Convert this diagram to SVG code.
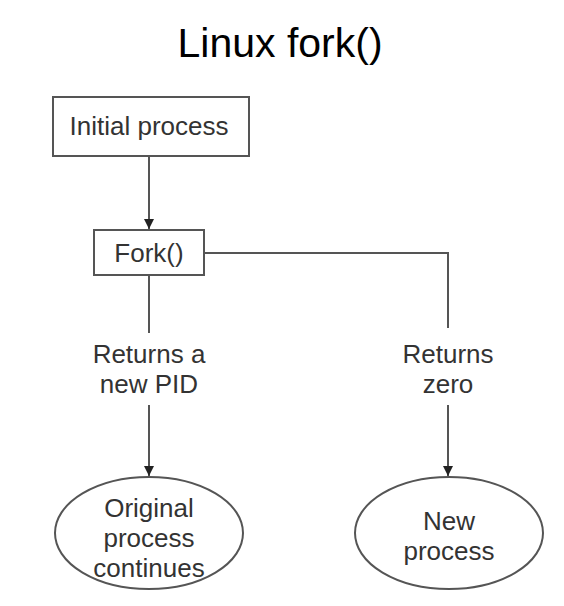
<svg xmlns="http://www.w3.org/2000/svg" width="564" height="606" viewBox="0 0 564 606">
<style>
.box{fill:#fff;stroke:#555;stroke-width:2}
.lbl{font-family:"Liberation Sans",Arial,sans-serif;font-size:26px;fill:#333;text-anchor:middle}
.title{font-family:"Liberation Sans",Arial,sans-serif;font-size:41px;fill:#000;text-anchor:middle}
.ln{fill:none;stroke:#555;stroke-width:2}
</style>
<defs>
<marker id="arr" viewBox="0 0 10 10" refX="10" refY="5" markerWidth="10" markerHeight="10" markerUnits="userSpaceOnUse" orient="auto">
<path d="M0,0 L10,5 L0,10 z" fill="#222"/>
</marker>
</defs>
<rect width="564" height="606" fill="#fff"/>
<text class="title" x="280" y="57">Linux fork()</text>
<g id="connectors">
<line class="ln" x1="149" y1="156" x2="149" y2="229" marker-end="url(#arr)"/>
<line class="ln" x1="149" y1="275" x2="149" y2="333"/>
<line class="ln" x1="149" y1="405" x2="149" y2="476" marker-end="url(#arr)"/>
<polyline class="ln" points="204,253 448,253 448,328"/>
<line class="ln" x1="448" y1="405" x2="448" y2="476" marker-end="url(#arr)"/>
<text class="lbl" x="149" y="363">Returns a</text>
<text class="lbl" x="149" y="393">new PID</text>
<text class="lbl" x="448" y="363">Returns</text>
<text class="lbl" x="448" y="393">zero</text>
</g>
<g id="initial">
<rect class="box" x="53" y="97" width="196" height="59"/>
<text class="lbl" x="149" y="135">Initial process</text>
</g>
<g id="fork">
<rect class="box" x="94" y="230" width="110" height="45"/>
<text class="lbl" x="149" y="262">Fork()</text>
</g>
<g id="original">
<ellipse class="box" cx="149" cy="533" rx="94" ry="56"/>
<text class="lbl" x="149" y="517">Original</text>
<text class="lbl" x="149" y="547">process</text>
<text class="lbl" x="149" y="577">continues</text>
</g>
<g id="newproc">
<ellipse class="box" cx="449" cy="533" rx="94" ry="56"/>
<text class="lbl" x="449" y="530">New</text>
<text class="lbl" x="449" y="560">process</text>
</g>
</svg>
